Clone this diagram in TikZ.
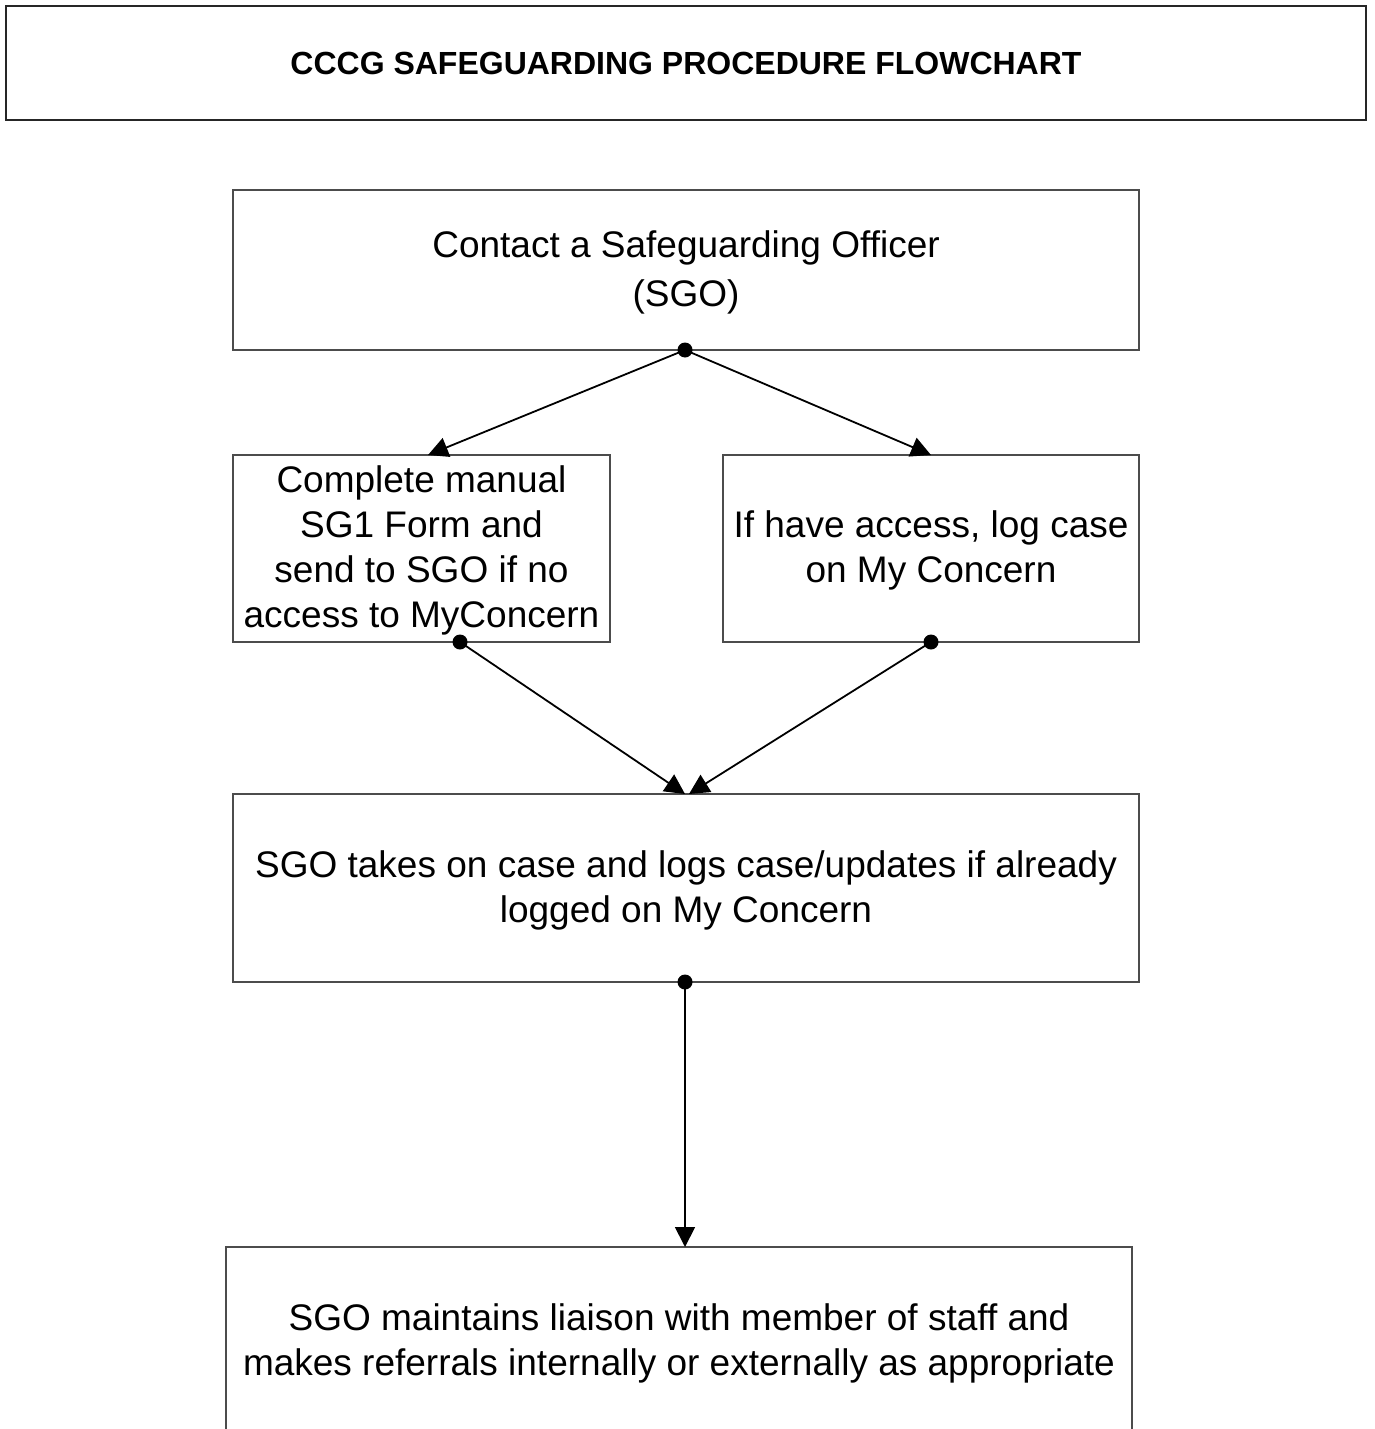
\documentclass[tikz,border=0pt]{standalone}
\usepackage{fontspec}
\setmainfont{Liberation Sans}
\usetikzlibrary{arrows.meta}
\newcommand{\toplift}{\rule{0pt}{31pt}}
\begin{document}
\begin{tikzpicture}[x=1pt,y=-1pt,
  box/.style={draw=black!70, line width=1.2pt, inner sep=0pt, align=center, font=\fontsize{37}{45}\selectfont},
  titlebox/.style={draw=black!85, line width=1.6pt, inner sep=0pt, align=center, font=\bfseries\fontsize{32}{38}\selectfont},
  conn/.style={line width=1.8pt, -{Triangle[length=20pt,width=20pt]}},
  dotc/.style={circle, fill=black, inner sep=0pt, minimum size=15pt}]
\useasboundingbox (0,0) rectangle (1374,1429);
\node[titlebox, minimum width=1360pt, minimum height=114pt] (title) at (686,63) {CCCG SAFEGUARDING PROCEDURE FLOWCHART};
\node[box, minimum width=906pt, minimum height=160pt, font=\fontsize{37}{49}\selectfont] (b1) at (686,270) {\toplift Contact a Safeguarding Officer\\(SGO)};
\node[box, minimum width=377pt, minimum height=187pt] (b2) at (421.5,548.5) {\toplift Complete manual\\SG1 Form and\\send to SGO if no\\access to MyConcern};
\node[box, minimum width=416pt, minimum height=187pt] (b3) at (931,548.5) {\toplift If have access, log case\\on My Concern};
\node[box, minimum width=906pt, minimum height=188pt] (b4) at (686,888) {\toplift SGO takes on case and logs case/updates if already\\logged on My Concern};
\node[box, minimum width=906pt, minimum height=189pt] (b5) at (679,1341.5) {\toplift SGO maintains liaison with member of staff and\\makes referrals internally or externally as appropriate};
\coordinate (t1) at (428,455);
\coordinate (t2) at (931,455);
\coordinate (t3) at (685,794);
\coordinate (t4) at (689,794);
\coordinate (t5) at (685,1247);
\node[dotc] (d1) at (685,350) {};
\node[dotc] (d2) at (460,642) {};
\node[dotc] (d3) at (931,642) {};
\node[dotc] (d4) at (685,982) {};
\draw[conn] (d1.center) -- (t1);
\draw[conn] (d1.center) -- (t2);
\draw[conn] (d2.center) -- (t3);
\draw[conn] (d3.center) -- (t4);
\draw[conn] (d4.center) -- (t5);
\end{tikzpicture}
\end{document}
